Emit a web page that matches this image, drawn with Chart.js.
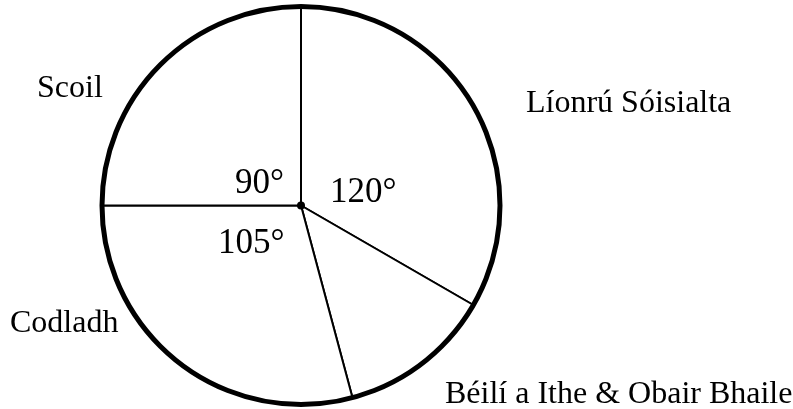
<!DOCTYPE html>
<html>
<head>
<meta charset="utf-8">
<title>Pie chart</title>
<script src="https://cdn.jsdelivr.net/npm/chart.js"></script>
<style>
    html, body { margin: 0; padding: 0; background: #ffffff; }
    #wrap { width: 793px; height: 409px; }
</style>
</head>
<body>
<div id="wrap"><canvas id="pieChart" width="793" height="409"></canvas></div>
<script>
    // data (clockwise from the top)
    const categories = ['Líonrú Sóisialta', 'Béilí a Ithe & Obair Bhaile', 'Codladh', 'Scoil'];
    const degrees = [120, 45, 105, 90];
    const angleLabels = ['120°', '', '105°', '90°'];

    // where the texts sit, relative to the centre of the pie (left x, baseline y)
    const namePos = [[225, -94], [144, 197], [-291, 126], [-264, -109]];
    const anglePos = [[29, -4], [0, 0], [-83, 47], [-66, -13]];

    const textPlugin = {
        id: 'pieTexts',
        afterDraw(chart) {
            const ctx = chart.ctx;
            const arcs = chart.getDatasetMeta(0).data;
            const cx = arcs[0].x;
            const cy = arcs[0].y;
            const r = arcs[0].outerRadius;

            // thick outer ring
            ctx.save();
            ctx.beginPath();
            ctx.arc(cx, cy, r, 0, Math.PI * 2);
            ctx.lineWidth = 5;
            ctx.strokeStyle = '#000';
            ctx.stroke();

            // centre dot
            ctx.beginPath();
            ctx.arc(cx, cy, 4, 0, Math.PI * 2);
            ctx.fillStyle = '#000';
            ctx.fill();

            ctx.textAlign = 'left';
            ctx.textBaseline = 'alphabetic';
            ctx.font = '32px "Liberation Serif", "Times New Roman", serif';
            categories.forEach((name, i) => {
                ctx.fillText(name, cx + namePos[i][0], cy + namePos[i][1]);
            });

            ctx.font = '35px "Liberation Serif", "Times New Roman", serif';
            angleLabels.forEach((txt, i) => {
                if (txt) ctx.fillText(txt, cx + anglePos[i][0], cy + anglePos[i][1]);
            });
            ctx.restore();
        }
    };

    var ctx = document.getElementById('pieChart').getContext('2d');
    var pieChart = new Chart(ctx, {
        type: 'pie',
        data: {
            labels: categories,
            datasets: [{
                data: degrees,
                backgroundColor: '#ffffff',
                borderColor: '#000000',
                borderWidth: 2
            }]
        },
        options: {
            responsive: false,
            animation: false,
            radius: 199,
            layout: {
                padding: { left: 0, right: 191, top: 2, bottom: 0 }
            },
            plugins: {
                legend: { display: false },
                tooltip: { enabled: false }
            }
        },
        plugins: [textPlugin]
    });
</script>
</body>
</html>
